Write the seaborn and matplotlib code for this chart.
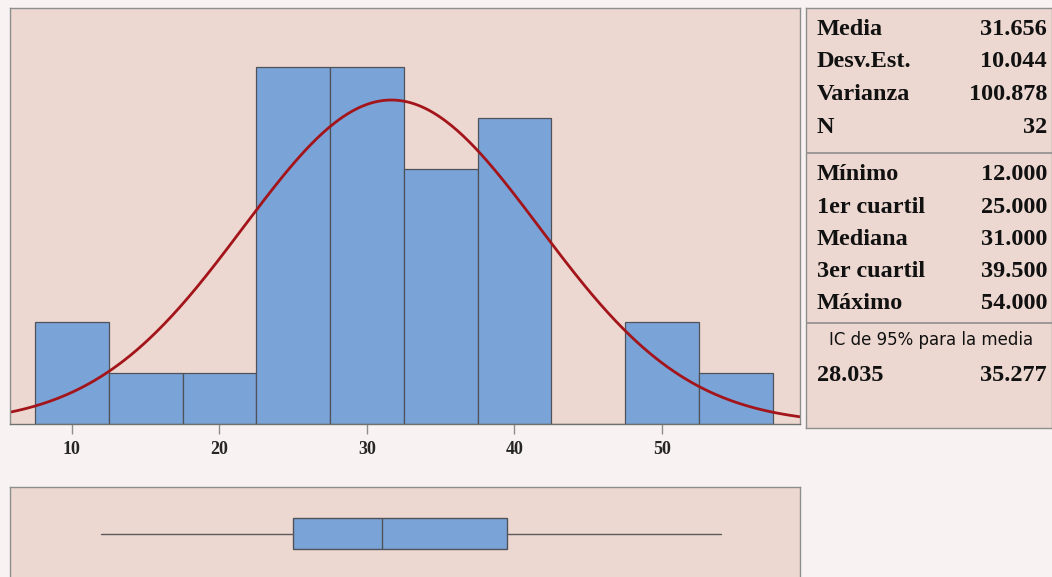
import numpy as np
import matplotlib
matplotlib.use("Agg")
import matplotlib.pyplot as plt
import seaborn as sns

# Histogram: bin edges (width 5) and observed counts per bin
bin_edges = [7.5, 12.5, 17.5, 22.5, 27.5, 32.5, 37.5, 42.5, 47.5, 52.5, 57.5]
bin_counts = [2, 1, 1, 7, 7, 5, 6, 0, 2, 1]
x_ticks = [10, 20, 30, 40, 50]

# Summary statistics
media = 31.656
desv_est = 10.044
varianza = 100.878
n_obs = 32
minimo = 12.000
q1 = 25.000
mediana = 31.000
q3 = 39.500
maximo = 54.000
ic_low = 28.035
ic_high = 35.277

stats_upper = [("Media", f"{media:.3f}"), ("Desv.Est.", f"{desv_est:.3f}"),
               ("Varianza", f"{varianza:.3f}"), ("N", f"{n_obs}")]
stats_lower = [("Mínimo", f"{minimo:.3f}"), ("1er cuartil", f"{q1:.3f}"),
               ("Mediana", f"{mediana:.3f}"), ("3er cuartil", f"{q3:.3f}"),
               ("Máximo", f"{maximo:.3f}")]

sns.set_theme(style="white")
plt.rcParams["font.family"] = ["DejaVu Sans"]

BG_PANEL = "#EDD8D1"
BAR = "#7AA3D8"
EDGE = "#4F5258"
CURVE = "#A3151A"
SPINE = "#8E8E8E"

W, H = 1052, 577
fig = plt.figure(figsize=(W / 100, H / 100), dpi=100)
fig.patch.set_facecolor("#F8F3F2")


def px_axes(x0, y0, x1, y1):
    """Axes positioned by pixel box (top-left origin)."""
    return fig.add_axes([x0 / W, 1 - y1 / H, (x1 - x0) / W, (y1 - y0) / H])


xlim = (5.8, 59.36)

# ---- Histogram with fitted normal curve ----
ax = px_axes(10, 8, 800, 424)
ax.set_facecolor(BG_PANEL)
centers = [(a + b) / 2 for a, b in zip(bin_edges[:-1], bin_edges[1:])]
sns.histplot(x=centers, weights=bin_counts, bins=bin_edges, ax=ax,
             color=BAR, edgecolor=EDGE, linewidth=0.9, alpha=1.0)
xs = np.linspace(xlim[0], xlim[1], 400)
bw = bin_edges[1] - bin_edges[0]
dens = n_obs * bw / (desv_est * np.sqrt(2 * np.pi)) * np.exp(-0.5 * ((xs - media) / desv_est) ** 2)
ax.plot(xs, dens, color=CURVE, lw=2.0)
ax.set_xlim(*xlim)
ax.set_ylim(0, 8.16)
ax.set_yticks([])
ax.set_ylabel("")
ax.set_xticks(x_ticks)
ax.set_xticklabels([str(t) for t in x_ticks], fontfamily="Liberation Serif",
                   fontweight="bold", fontsize=13)
ax.tick_params(axis="x", bottom=True, length=7, width=1, color=SPINE, pad=5)
for s in ax.spines.values():
    s.set_color(SPINE)
    s.set_linewidth(1.0)
ax.spines["bottom"].set_color("#707070")

# ---- Statistics panel ----
sp = px_axes(806, 8, 1052, 428)
sp.set_facecolor(BG_PANEL)
sp.set_xlim(806, 1052)
sp.set_ylim(428, 8)
sp.set_xticks([])
sp.set_yticks([])
for s in sp.spines.values():
    s.set_color(SPINE)
    s.set_linewidth(1.0)
serif = dict(fontfamily="Liberation Serif", fontweight="bold", fontsize=17.5,
             color="#111111", va="center")
for (lab, val), y in zip(stats_upper, [30, 62, 95, 128]):
    sp.text(817, y, lab, ha="left", **serif)
    sp.text(1047, y, val, ha="right", **serif)
sp.axhline(153, color=SPINE, lw=1.2)
for (lab, val), y in zip(stats_lower, [175, 208, 240, 272, 304]):
    sp.text(817, y, lab, ha="left", **serif)
    sp.text(1047, y, val, ha="right", **serif)
sp.axhline(323, color=SPINE, lw=1.2)
sp.text(931, 340, "IC de 95% para la media", ha="center", va="center",
        fontsize=12, color="#111111", fontfamily="DejaVu Sans")
sp.text(817, 376, f"{ic_low:.3f}", ha="left", **serif)
sp.text(1047, 376, f"{ic_high:.3f}", ha="right", **serif)

# ---- Box plot ----
bx = px_axes(10, 487, 800, 580)
bx.set_facecolor(BG_PANEL)
box_stats = [dict(med=mediana, q1=q1, q3=q3, whislo=minimo, whishi=maximo, fliers=[])]
bx.bxp(box_stats, positions=[0.5], widths=0.33, orientation="horizontal",
       showcaps=False, showfliers=False, patch_artist=True,
       boxprops=dict(facecolor=BAR, edgecolor=EDGE, linewidth=1.0),
       medianprops=dict(color=EDGE, linewidth=1.0),
       whiskerprops=dict(color="#5A5A5A", linewidth=1.0))
bx.set_xlim(*xlim)
bx.set_ylim(0, 1)
bx.set_xticks([])
bx.set_yticks([])
for s in bx.spines.values():
    s.set_color(SPINE)
    s.set_linewidth(1.0)
bx.spines["bottom"].set_visible(False)

fig.savefig("out.png", dpi=100, facecolor=fig.get_facecolor())
